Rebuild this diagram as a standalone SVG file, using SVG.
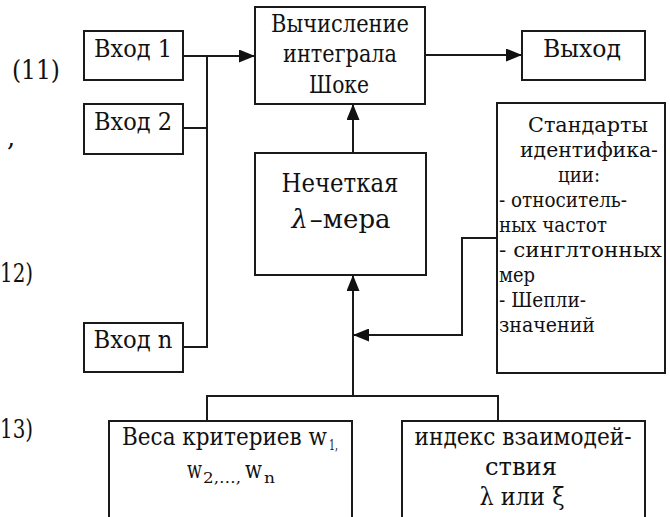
<svg xmlns="http://www.w3.org/2000/svg" width="670" height="517" viewBox="0 0 670 517">
<style>
text{font-family:'DejaVu Serif',serif;fill:#111;}
.box{fill:#fff;stroke:#1a1a1a;stroke-width:2;}
.ln{fill:none;stroke:#1a1a1a;stroke-width:2;}
.t27{font-size:24px;}
.t29{font-size:26px;}
.t24{font-size:21px;}
.c{text-anchor:middle;}
.sub{font-size:15px;}
.lab{font-size:26px;}
</style>
<defs>
<marker id="ah" viewBox="0 0 16 13" refX="16" refY="6.5" markerWidth="16" markerHeight="13" markerUnits="userSpaceOnUse" orient="auto">
<path d="M0,0 L16,6.5 L0,13 z" fill="#111"/>
</marker>
</defs>
<rect width="670" height="517" fill="#fff"/>
<g id="labels">
<text class="lab" x="12" y="79" textLength="48" lengthAdjust="spacingAndGlyphs">(11)</text>
<text class="lab" x="7" y="146">,</text>
<text class="lab" x="0" y="282" textLength="33" lengthAdjust="spacingAndGlyphs">12)</text>
<text class="lab" x="0" y="438" textLength="33" lengthAdjust="spacingAndGlyphs">13)</text>
</g>
<g id="connectors">
<path class="ln" d="M183,56 H255" marker-end="url(#ah)"/>
<path class="ln" d="M183,128 H207"/>
<path class="ln" d="M183,347 H207 V56"/>
<path class="ln" d="M425,55 H522" marker-end="url(#ah)"/>
<path class="ln" d="M353,153 V104" marker-end="url(#ah)"/>
<path class="ln" d="M353,396 V275" marker-end="url(#ah)"/>
<path class="ln" d="M207,421 V396 H498 V421"/>
<path class="ln" d="M497,238 H462 V335 H353" marker-end="url(#ah)"/>
</g>
<g id="in1">
<rect class="box" x="84" y="31" width="99" height="49"/>
<text class="t27 c" x="133" y="57" textLength="78" lengthAdjust="spacingAndGlyphs">Вход 1</text>
</g>
<g id="in2">
<rect class="box" x="84" y="104" width="99" height="50"/>
<text class="t27 c" x="133" y="130" textLength="78" lengthAdjust="spacingAndGlyphs">Вход 2</text>
</g>
<g id="inn">
<rect class="box" x="84" y="323" width="99" height="49"/>
<text class="t27 c" x="133" y="348" textLength="79" lengthAdjust="spacingAndGlyphs">Вход n</text>
</g>
<g id="choquet">
<rect class="box" x="255" y="7" width="170" height="97"/>
<text class="t27 c" x="340" y="32" textLength="138" lengthAdjust="spacingAndGlyphs">Вычисление</text>
<text class="t27 c" x="340" y="62" textLength="114" lengthAdjust="spacingAndGlyphs">интеграла</text>
<text class="t27 c" x="339" y="93" textLength="60" lengthAdjust="spacingAndGlyphs">Шоке</text>
</g>
<g id="out">
<rect class="box" x="522" y="31" width="123" height="49"/>
<text class="t27 c" x="582" y="57" textLength="78" lengthAdjust="spacingAndGlyphs">Выход</text>
</g>
<g id="fuzzy">
<rect class="box" x="255" y="153" width="171" height="122"/>
<text class="t29 c" x="340" y="192" textLength="117" lengthAdjust="spacingAndGlyphs">Нечеткая</text>
<text class="t29 c" x="341" y="228"><tspan font-style="italic">λ</tspan><tspan dx="2">–мера</tspan></text>
</g>
<g id="standards">
<rect class="box" x="497" y="103" width="168" height="270"/>
<text class="t24" x="528" y="132" textLength="120" lengthAdjust="spacingAndGlyphs">Стандарты</text>
<text class="t24" x="520" y="157" textLength="138" lengthAdjust="spacingAndGlyphs">идентифика-</text>
<text class="t24" x="558" y="182" textLength="42" lengthAdjust="spacingAndGlyphs">ции:</text>
<text class="t24" x="499" y="207" textLength="128" lengthAdjust="spacingAndGlyphs">- относитель-</text>
<text class="t24" x="499" y="232" textLength="108" lengthAdjust="spacingAndGlyphs">ных частот</text>
<text class="t24" x="499" y="257" textLength="163" lengthAdjust="spacingAndGlyphs">- синглтонных</text>
<text class="t24" x="499" y="282" textLength="36" lengthAdjust="spacingAndGlyphs">мер</text>
<text class="t24" x="499" y="307" textLength="87" lengthAdjust="spacingAndGlyphs">- Шепли-</text>
<text class="t24" x="499" y="332" textLength="96" lengthAdjust="spacingAndGlyphs">значений</text>
</g>
<g id="weights">
<rect class="box" x="109" y="421" width="243" height="110"/>
<text class="t27" x="122" y="445" textLength="205" lengthAdjust="spacingAndGlyphs">Веса критериев w</text>
<text class="sub" x="329" y="450" textLength="9" lengthAdjust="spacingAndGlyphs">1,</text>
<text class="t27" x="187" y="478" textLength="15" lengthAdjust="spacingAndGlyphs">w</text>
<text class="sub" x="203" y="483" textLength="38" lengthAdjust="spacingAndGlyphs">2,…,</text>
<text class="t27" x="245" y="478" textLength="17" lengthAdjust="spacingAndGlyphs">w</text>
<text class="sub" x="264" y="483" textLength="11" lengthAdjust="spacingAndGlyphs">n</text>
</g>
<g id="index">
<rect class="box" x="402" y="421" width="243" height="110"/>
<text class="t27 c" x="523" y="445" textLength="217" lengthAdjust="spacingAndGlyphs">индекс взаимодей-</text>
<text class="t27 c" x="521" y="475" textLength="72" lengthAdjust="spacingAndGlyphs">ствия</text>
<text class="t27 c" x="522" y="505" textLength="85" lengthAdjust="spacingAndGlyphs">λ или ξ</text>
</g>
</svg>
